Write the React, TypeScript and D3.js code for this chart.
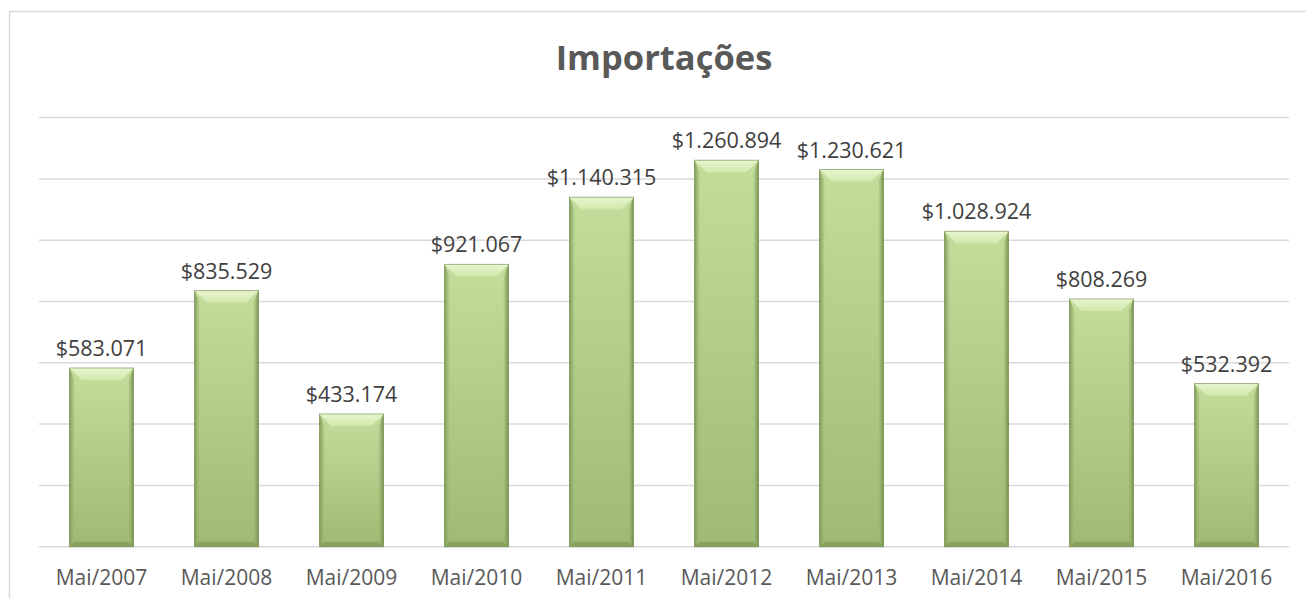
import React from 'react';
import * as d3 from 'd3';

const categories = ['Mai/2007', 'Mai/2008', 'Mai/2009', 'Mai/2010', 'Mai/2011', 'Mai/2012', 'Mai/2013', 'Mai/2014', 'Mai/2015', 'Mai/2016'];
const values = [583071, 835529, 433174, 921067, 1140315, 1260894, 1230621, 1028924, 808269, 532392];
const gridTicks = [0, 200000, 400000, 600000, 800000, 1000000, 1200000, 1400000];

const W = 1306;
const H = 598;
const left = 39;
const right = 1289;
const top = 117.6;
const bottom = 546.7;

const fmt = (v: number) => '$' + d3.format(',')(v).replace(/,/g, '.');

export default function App() {
  const x = d3.scaleBand<string>().domain(categories).range([left, right]).paddingInner(0.488).paddingOuter(0.244);
  const y = d3.scaleLinear().domain([0, 1400000]).range([bottom, top]);
  const font = '"Open Sans", sans-serif';

  return (
    <svg width={W} height={H} style={{ position: 'absolute', left: 0, top: 0, background: '#fff' }}>
      <defs>
        <linearGradient id="body" x1="0" y1="0" x2="0" y2="1">
          <stop offset="0" stopColor="#c3de9b" />
          <stop offset="1" stopColor="#9fba74" />
        </linearGradient>
        <linearGradient id="topBevel" x1="0" y1="0" x2="0" y2="1">
          <stop offset="0" stopColor="#e9f5cf" />
          <stop offset="1" stopColor="#d2e8ad" />
        </linearGradient>
        <linearGradient id="sideL" x1="0" y1="0" x2="1" y2="0">
          <stop offset="0" stopColor="#7f9a57" />
          <stop offset="1" stopColor="#9fba74" stopOpacity={0.3} />
        </linearGradient>
        <linearGradient id="sideR" x1="1" y1="0" x2="0" y2="0">
          <stop offset="0" stopColor="#738e4d" />
          <stop offset="1" stopColor="#9fba74" stopOpacity={0.3} />
        </linearGradient>
      </defs>
      <rect x={9.5} y={11.5} width={W} height={H} fill="#fff" stroke="#d9d9d9" strokeWidth={1.5} />
      {gridTicks.map((t) => (
        <line key={t} x1={left} x2={right} y1={y(t)} y2={y(t)} stroke="#d9d9d9" strokeWidth={1.5} />
      ))}
      <text x={664} y={70} textAnchor="middle" fontFamily={font} fontWeight="bold" fontSize={34.5} fill="#595959">
        Importações
      </text>
      {values.map((v, i) => {
        const x0 = x(categories[i])!;
        const x1 = x0 + x.bandwidth();
        const y0 = y(v);
        const y1 = y(0);
        const b = 12;
        const s = 5;
        return (
          <g key={categories[i]}>
            <rect x={x0} y={y0} width={x1 - x0} height={y1 - y0} fill="url(#body)" />
            <polygon points={`${x0},${y0} ${x0 + s},${y0 + b} ${x0 + s},${y1 - s} ${x0},${y1}`} fill="url(#sideL)" />
            <polygon points={`${x1},${y0} ${x1 - s},${y0 + b} ${x1 - s},${y1 - s} ${x1},${y1}`} fill="url(#sideR)" />
            <polygon points={`${x0},${y1} ${x0 + s},${y1 - s} ${x1 - s},${y1 - s} ${x1},${y1}`} fill="#849f5c" opacity={0.85} />
            <polygon points={`${x0},${y0} ${x1},${y0} ${x1 - b},${y0 + b} ${x0 + b},${y0 + b}`} fill="url(#topBevel)" />
            <rect x={x0} y={y0} width={x1 - x0} height={y1 - y0} fill="none" stroke="#6f8a4c" strokeWidth={1} opacity={0.6} />
            <text x={(x0 + x1) / 2} y={y0 - 12} textAnchor="middle" fontFamily={font} fontSize={21.5} fill="#404040">
              {fmt(v)}
            </text>
            <text x={(x0 + x1) / 2} y={585} textAnchor="middle" fontFamily={font} fontSize={21} fill="#595959">
              {categories[i]}
            </text>
          </g>
        );
      })}
    </svg>
  );
}
